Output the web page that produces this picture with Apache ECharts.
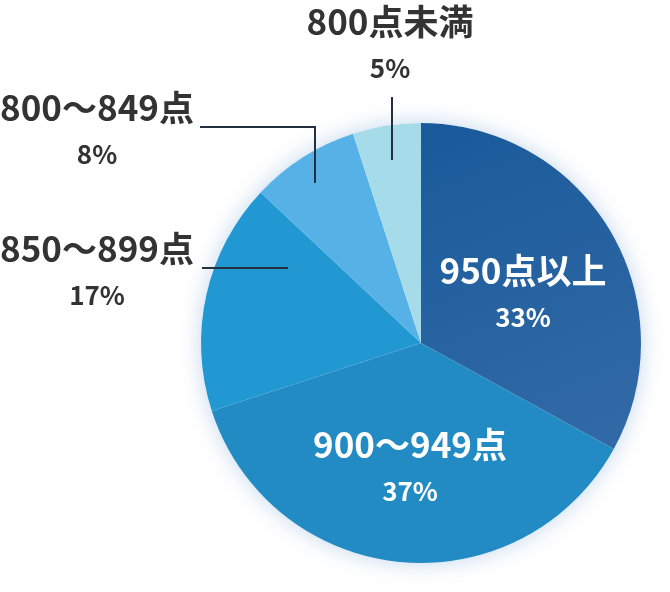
<!DOCTYPE html>
<html lang="ja">
<head>
    <meta charset="UTF-8">
    <title>スコア分布</title>
    <style>
        html, body { margin: 0; padding: 0; background: #fff; }
    </style>
</head>
<body>
<div id="main" style="width: 670px;height:592px;"></div>

<script src="https://cdn.jsdelivr.net/npm/echarts@6/dist/echarts.min.js"></script>

<script type="text/javascript">
    // データ
    var categories = ['950点以上', '900〜949点', '850〜899点', '800〜849点', '800点未満'];
    var percents = [33, 37, 17, 8, 5];

    // 色
    var colors = ['#1b5c9b', '#228bc4', '#2298d3', '#56b1e6', '#a6dbe9'];

    // ラベル位置 (中心) と引き出し線
    var labelPos = [[523, 294], [410, 468], [97, 272], [97, 131], [390, 45]];
    var linePoints = [null, null,
        [[288, 268], [202, 268]],
        [[315, 183], [315, 127], [200, 127]],
        [[392, 160], [392, 97]]];

    var myChart = echarts.init(document.getElementById('main'));

    var seriesData = [];
    for (var i = 0; i < categories.length; i++) {
        var inside = i < 2;
        var color = colors[i];
        if (i === 0) {
            color = new echarts.graphic.LinearGradient(0, 0, 0.6, 1, [
                {offset: 0, color: '#1a5a9a'},
                {offset: 1, color: '#3169a6'}
            ]);
        }
        seriesData.push({
            name: categories[i],
            value: percents[i],
            itemStyle: {color: color},
            label: {
                position: inside ? 'inside' : 'outside',
                rich: {
                    n: {
                        fontSize: 35, fontWeight: 'bold', lineHeight: 47,
                        color: inside ? '#fff' : '#333',
                        fontFamily: 'Noto Sans CJK JP'
                    },
                    p: {
                        fontSize: 26, fontWeight: 'bold', lineHeight: 47,
                        color: inside ? '#fff' : '#333',
                        fontFamily: 'Noto Sans CJK JP'
                    }
                }
            }
        });
    }

    // 引き出し線は扇形の上に描く
    var graphics = [];
    for (var j = 0; j < linePoints.length; j++) {
        if (!linePoints[j]) continue;
        graphics.push({
            type: 'polyline',
            z: 100,
            silent: true,
            shape: {points: linePoints[j]},
            style: {stroke: '#24303d', lineWidth: 2, fill: null}
        });
    }

    var option = {
        animation: false,
        graphic: graphics,
        series: [
            {   // 影用の円
                type: 'pie',
                silent: true,
                center: [421, 343],
                radius: 220,
                z: 1,
                label: {show: false},
                labelLine: {show: false},
                itemStyle: {
                    color: '#fff',
                    shadowBlur: 22,
                    shadowColor: 'rgba(40, 110, 190, 0.28)'
                },
                data: [{value: 1}]
            },
            {
                type: 'pie',
                center: [421, 343],
                radius: 220,
                startAngle: 90,
                clockwise: true,
                z: 2,
                label: {
                    show: true,
                    formatter: '{n|{b}}\n{p|{c}%}',
                    align: 'center',
                    overflow: 'none'
                },
                labelLine: {show: false},
                labelLayout: function (params) {
                    var idx = params.dataIndex;
                    return {
                        x: labelPos[idx][0],
                        y: labelPos[idx][1],
                        align: 'center',
                        verticalAlign: 'middle'
                    };
                },
                data: seriesData
            }
        ]
    };
    myChart.setOption(option);
</script>
</body>
</html>
